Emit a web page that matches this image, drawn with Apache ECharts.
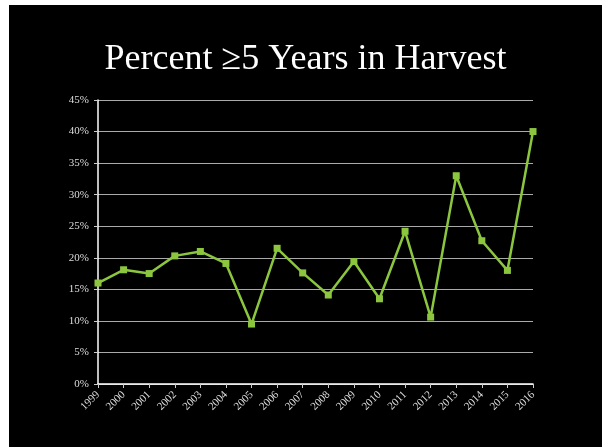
<!DOCTYPE html>
<html><head><meta charset="utf-8">
<script src="https://cdn.jsdelivr.net/npm/echarts@6/dist/echarts.min.js"></script>
<style>
html,body{margin:0;padding:0;background:#fff;width:602px;height:447px;overflow:hidden;}
#c{position:absolute;left:9px;top:5px;width:593px;height:442px;background:#000;}
</style></head>
<body><div id="c"></div>
<script>
const years = ['1999','2000','2001','2002','2003','2004','2005','2006','2007','2008','2009','2010','2011','2012','2013','2014','2015','2016'];
const percent = [16.0, 18.1, 17.5, 20.3, 21.0, 19.1, 9.5, 21.5, 17.6, 14.1, 19.4, 13.5, 24.2, 10.6, 33.0, 22.7, 18.0, 40.0];
const titleText = 'Percent \u22655 Years in Harvest';

const chart = echarts.init(document.getElementById('c'), null, {renderer:'canvas'});
chart.setOption({
  backgroundColor: '#000',
  animation: false,
  title: {
    text: titleText, left: 'center', top: 32,
    textStyle: {color:'#fff', fontFamily:'Liberation Serif', fontWeight:'normal', fontSize:36}
  },
  grid: {left: 89, right: 69, top: 95, bottom: 63},
  xAxis: {
    type: 'category', data: years, boundaryGap: false,
    axisLine: {show:true, lineStyle:{color:'#fff', width:1.5}},
    axisTick: {show:true, length:4, lineStyle:{color:'#ccc'}},
    axisLabel: {color:'#ddd', fontFamily:'Liberation Serif', fontSize:11, rotate:45, margin:9, interval:0},
    splitLine: {show:false}
  },
  yAxis: {
    type: 'value', min: 0, max: 45, interval: 5,
    axisLine: {show:true, lineStyle:{color:'#fff', width:1.5}},
    axisTick: {show:true, length:4, lineStyle:{color:'#ccc'}},
    axisLabel: {color:'#ddd', fontFamily:'Liberation Serif', fontSize:11, margin:9, formatter:'{value}%'},
    splitLine: {show:true, lineStyle:{color:'#aaa', width:1}}
  },
  series: [{
    type: 'line', data: percent,
    symbol: 'rect', symbolSize: 7,
    lineStyle: {color:'#8cc63f', width:2.5},
    itemStyle: {color:'#8cc63f'}
  }]
});
</script></body></html>
